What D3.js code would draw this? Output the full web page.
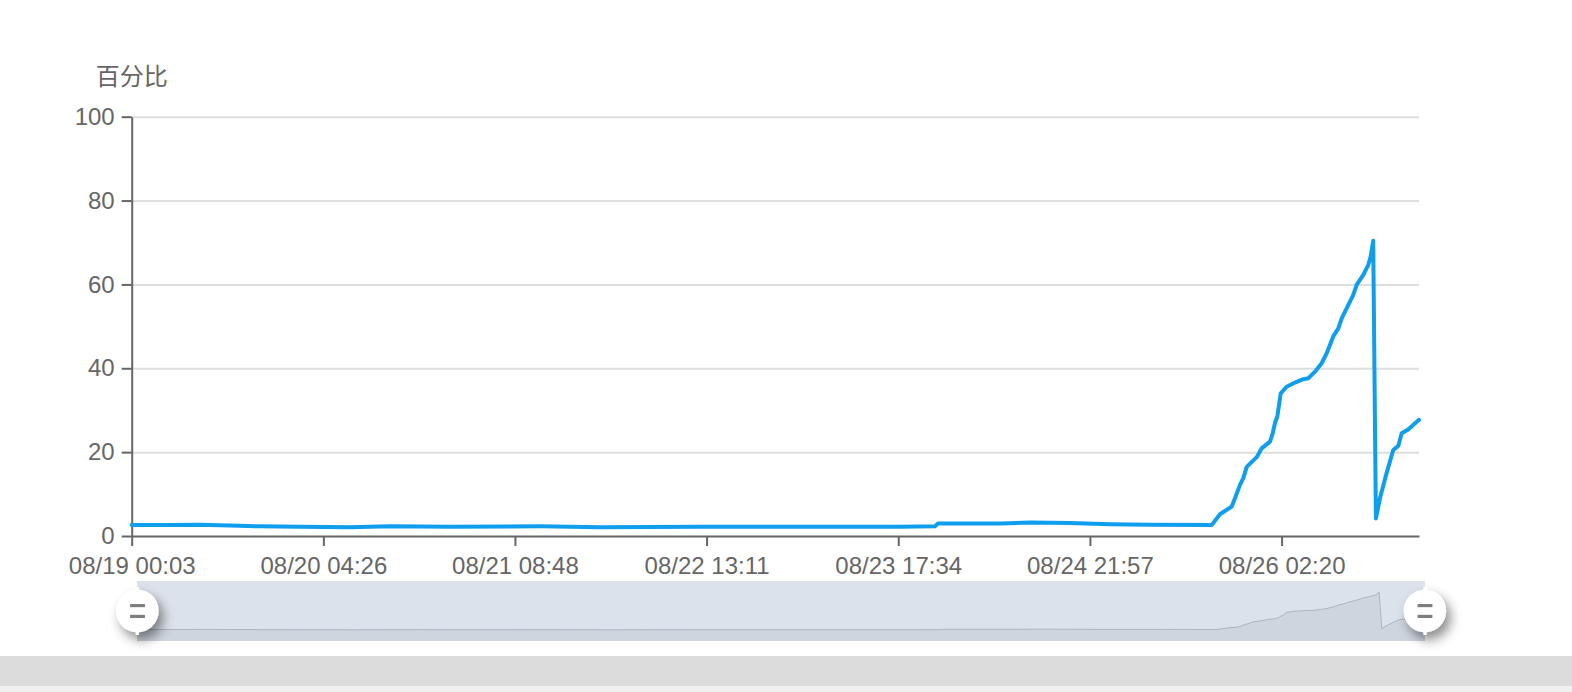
<!DOCTYPE html>
<html>
<head>
<meta charset="utf-8">
<script src="https://cdn.jsdelivr.net/npm/d3@7"></script>
<style>
  html, body { margin: 0; padding: 0; background: #fff; }
  #chart { width: 1572px; height: 692px; position: relative; }
</style>
</head>
<body>
<div id="chart"></div>
<script>
// Percent over time
const TIMES = [
  '08/19 00:03', '08/19 05:43', '08/19 10:10', '08/19 14:36', '08/19 19:03',
  '08/20 00:58', '08/20 08:23', '08/20 14:18', '08/20 23:11', '08/21 12:31',
  '08/21 21:24', '08/22 12:12', '08/23 03:01', '08/23 17:49', '08/23 23:00',
  '08/23 23:27', '08/24 08:38', '08/24 13:04', '08/24 18:59', '08/25 00:55',
  '08/25 06:50', '08/25 15:59', '08/25 17:12', '08/25 18:56', '08/25 19:26',
  '08/25 20:10', '08/25 20:40', '08/25 21:10', '08/25 22:39', '08/25 23:23',
  '08/26 00:37', '08/26 01:01', '08/26 01:21', '08/26 01:42', '08/26 02:12',
  '08/26 03:05', '08/26 04:19', '08/26 05:33', '08/26 06:17', '08/26 07:17',
  '08/26 08:16', '08/26 09:01', '08/26 09:59', '08/26 10:44', '08/26 11:14',
  '08/26 11:58', '08/26 12:57', '08/26 13:27', '08/26 14:26', '08/26 15:10',
  '08/26 15:31', '08/26 15:54', '08/26 16:18', '08/26 16:54', '08/26 17:53',
  '08/26 18:52', '08/26 19:37', '08/26 20:07', '08/26 21:05', '08/26 22:41'
]
const VALUES = [
  2.6, 2.6, 2.7, 2.5, 2.3,
  2.2, 2.1, 2.3, 2.2, 2.3,
  2.1, 2.2, 2.2, 2.2, 2.3,
  3.0, 3.0, 3.2, 3.1, 2.8,
  2.7, 2.6, 5.2, 7.0, 9.0,
  12.2, 13.8, 16.5, 18.8, 20.9,
  22.5, 24.5, 26.9, 28.5, 34.0,
  35.6, 36.6, 37.4, 37.6, 39.2,
  41.2, 43.6, 47.6, 49.5, 51.9,
  54.3, 57.5, 59.9, 62.3, 64.6,
  66.6, 70.4, 4.2, 9.0, 15.0,
  20.5, 21.5, 24.5, 25.4, 27.7
]
const X_TICKS = ['08/19 00:03', '08/20 04:26', '08/21 08:48', '08/22 13:11', '08/23 17:34', '08/24 21:57', '08/26 02:20']
const Y_TICKS = [0, 20, 40, 60, 80, 100]
const Y_NAME = '百分比'

const parse = d3.timeParse('%m/%d %H:%M')
const fmt = d3.timeFormat('%m/%d %H:%M')
const data = TIMES.map((t, i) => ({ t: parse(t), v: VALUES[i] }))

const totalW = 1572, totalH = 692
const plot = { left: 131.7, right: 1419, top: 116.7, bottom: 536 }
const slider = { left: 137, right: 1425, top: 581, bottom: 641 }

const svg = d3.select('#chart').append('svg')
  .attr('width', totalW).attr('height', totalH)

const defs = svg.append('defs')
const shadow = defs.append('filter').attr('id', 'handle-shadow')
  .attr('x', '-50%').attr('y', '-50%').attr('width', '200%').attr('height', '200%')
shadow.append('feDropShadow')
  .attr('dx', 2).attr('dy', 3).attr('stdDeviation', 2.5)
  .attr('flood-color', '#000').attr('flood-opacity', 0.45)

// bottom page band
svg.append('rect').attr('x', 0).attr('y', 656).attr('width', totalW).attr('height', 30).attr('fill', '#dcdcdc')
svg.append('rect').attr('x', 0).attr('y', 686).attr('width', totalW).attr('height', 6).attr('fill', '#f0f0f0')

// Scales
const x = d3.scaleTime()
  .domain([parse(TIMES[0]), parse(TIMES[TIMES.length - 1])])
  .range([plot.left, plot.right])

const y = d3.scaleLinear()
  .domain([0, 100])
  .range([plot.bottom, plot.top])

const labelFont = '"Helvetica Neue", Helvetica, "Liberation Sans", Arial, sans-serif'

// Grid lines
svg.append('g')
  .attr('transform', `translate(${plot.left},0)`)
  .call(d3.axisLeft(y).tickValues(Y_TICKS.filter(d => d > 0)).tickSize(-(plot.right - plot.left)).tickFormat(''))
  .call(g => g.select('.domain').remove())
  .call(g => g.selectAll('line').attr('stroke', '#dedede').attr('stroke-width', 2))

// Y axis
svg.append('g')
  .attr('transform', `translate(${plot.left},0)`)
  .call(d3.axisLeft(y).tickValues(Y_TICKS).tickSize(10).tickSizeOuter(0).tickPadding(7))
  .call(g => g.select('.domain').attr('stroke', '#666').attr('stroke-width', 2))
  .call(g => g.selectAll('.tick line').attr('stroke', '#666').attr('stroke-width', 2))
  .call(g => g.selectAll('text').attr('fill', '#666').attr('font-size', 24).attr('font-family', labelFont))

// X axis
svg.append('g')
  .attr('transform', `translate(0,${plot.bottom})`)
  .call(d3.axisBottom(x).tickValues(X_TICKS.map(parse)).tickFormat(fmt).tickSize(10).tickSizeOuter(0).tickPadding(11))
  .call(g => g.select('.domain').attr('stroke', '#666').attr('stroke-width', 2))
  .call(g => g.selectAll('.tick line').attr('stroke', '#666').attr('stroke-width', 2))
  .call(g => g.selectAll('text').attr('fill', '#666').attr('font-size', 24).attr('font-family', labelFont))

// Y axis name
svg.append('text')
  .attr('x', plot.left).attr('y', 74)
  .attr('text-anchor', 'middle')
  .attr('dominant-baseline', 'central')
  .attr('fill', '#666').attr('font-size', 24)
  .attr('font-family', '"Noto Sans CJK SC", sans-serif')
  .text(Y_NAME)

// Series line
const line = d3.line()
  .x(d => x(d.t))
  .y(d => y(d.v))

svg.append('path')
  .datum(data)
  .attr('fill', 'none')
  .attr('stroke', '#0f9ded')
  .attr('stroke-width', 4)
  .attr('stroke-linejoin', 'round')
  .attr('stroke-linecap', 'round')
  .attr('d', line)

// Data zoom slider
svg.append('rect')
  .attr('x', slider.left).attr('y', slider.top)
  .attr('width', slider.right - slider.left).attr('height', slider.bottom - slider.top)
  .attr('fill', 'rgba(167,183,204,0.4)')

const ext = d3.extent(VALUES)
const pad = (ext[1] - ext[0]) * 0.3
const xs = d3.scaleTime().domain(x.domain()).range([slider.left, slider.right])
const ys = d3.scaleLinear().domain([ext[0] - pad, ext[1] + pad]).range([slider.bottom, slider.top])

svg.append('path')
  .datum(data)
  .attr('fill', '#2f4554').attr('fill-opacity', 0.08)
  .attr('d', d3.area().x(d => xs(d.t)).y0(slider.bottom).y1(d => ys(d.v)))

svg.append('path')
  .datum(data)
  .attr('fill', 'none')
  .attr('stroke', '#2f4554').attr('stroke-opacity', 0.25).attr('stroke-width', 1)
  .attr('d', d3.line().x(d => xs(d.t)).y(d => ys(d.v)))

// Handles
const handleIcon = 'M10.7,11.9v-1.3H9.3v1.3c-4.9,0.3-8.8,4.4-8.8,9.4c0,5,3.9,9.1,8.8,9.4v1.3h1.3v-1.3c4.9-0.3,8.8-4.4,8.8-9.4C19.5,16.3,15.6,12.2,10.7,11.9z'
const midY = (slider.top + slider.bottom) / 2
;[slider.left + 0.5, slider.right].forEach(cx => {
  const h = svg.append('g')
    .attr('transform', `translate(${cx},${midY}) scale(2.25) translate(-10,-21.3)`)
  h.append('path').attr('d', handleIcon).attr('fill', '#fff').attr('filter', 'url(#handle-shadow)')
  h.append('rect').attr('x', 6.7).attr('y', 18.2).attr('width', 6.6).attr('height', 1.4).attr('fill', '#7d7d7d')
  h.append('rect').attr('x', 6.7).attr('y', 23).attr('width', 6.6).attr('height', 1.4).attr('fill', '#7d7d7d')
})
</script>
</body>
</html>
